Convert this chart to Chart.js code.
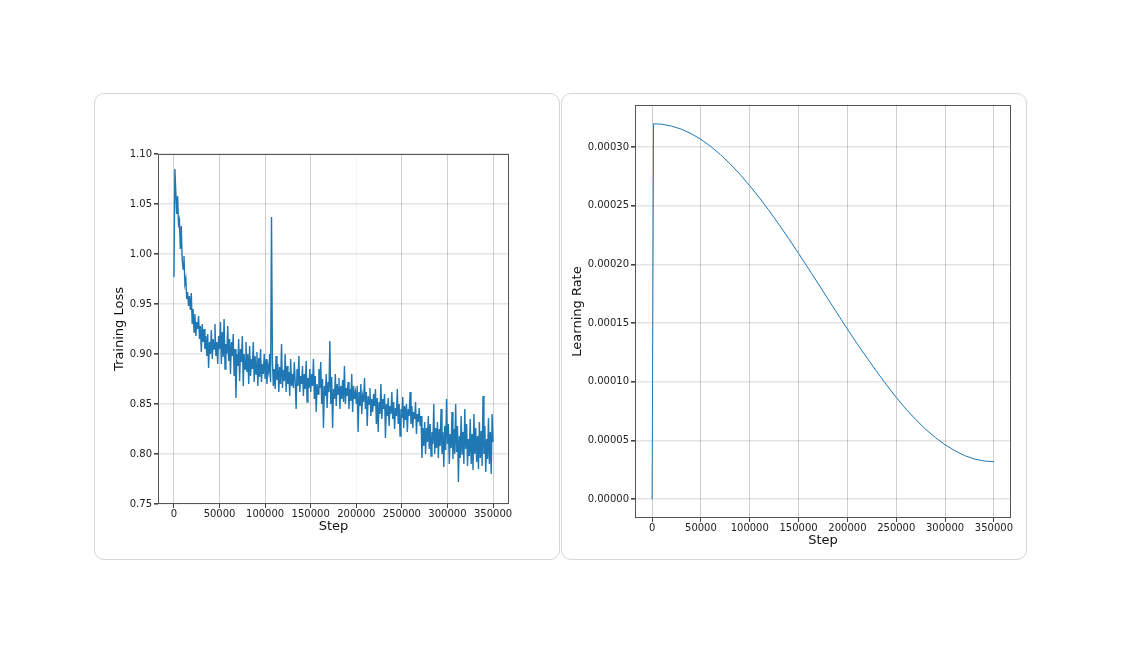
<!DOCTYPE html>
<html>
<head>
<meta charset="utf-8">
<script src="https://cdn.jsdelivr.net/npm/chart.js@4.4.1/dist/chart.umd.min.js"></script>
<style>
  body { margin: 0; background: #fff; width: 1121px; height: 656px; overflow: hidden; }
  .panel {
    position: absolute; box-sizing: border-box;
    border: 1px solid #d6d6d6; border-radius: 10px; background: #fff;
  }
  .panel .wrap { position: absolute; left: -1px; top: -1px; }
</style>
</head>
<body>
<div class="panel" style="left:94px; top:93px; width:466px; height:467px;">
  <div class="wrap" style="width:466px; height:467px;"><canvas id="lossChart"></canvas></div>
</div>
<div class="panel" style="left:561px; top:93px; width:466px; height:467px;">
  <div class="wrap" style="width:466px; height:467px;"><canvas id="lrChart"></canvas></div>
</div>
<script>
// training loss, one value every 1000 steps (0 .. 350000)
const lossStepEvery = 1000;
const lossValues = [
  0.977, 1.085, 1.063, 1.040, 1.058, 1.030, 1.034, 1.005, 1.028, 0.995,
  0.985, 0.998, 0.970, 0.975, 0.955, 0.962, 0.948, 0.958, 0.944, 0.961,
  0.930, 0.945, 0.922, 0.940, 0.918, 0.932, 0.925, 0.938, 0.915, 0.928,
  0.902, 0.930, 0.912, 0.925, 0.905, 0.918, 0.898, 0.920, 0.886, 0.912,
  0.900, 0.924, 0.895, 0.915, 0.905, 0.930, 0.898, 0.912, 0.890, 0.918,
  0.905, 0.932, 0.890, 0.922, 0.897, 0.935, 0.885, 0.910, 0.900, 0.928,
  0.893, 0.915, 0.880, 0.912, 0.898, 0.920, 0.878, 0.905, 0.856, 0.900,
  0.888, 0.915, 0.873, 0.905, 0.892, 0.918, 0.868, 0.900, 0.885, 0.912,
  0.882, 0.900, 0.870, 0.908, 0.878, 0.895, 0.885, 0.912, 0.872, 0.898,
  0.880, 0.902, 0.868, 0.896, 0.877, 0.905, 0.872, 0.890, 0.880, 0.900,
  0.875, 0.895, 0.870, 0.888, 0.882, 0.900, 0.872, 1.037, 0.893, 0.868,
  0.885, 0.865, 0.898, 0.874, 0.890, 0.862, 0.887, 0.870, 0.910, 0.866,
  0.884, 0.873, 0.900, 0.862, 0.888, 0.870, 0.882, 0.858, 0.895, 0.868,
  0.880, 0.866, 0.892, 0.872, 0.845, 0.885, 0.868, 0.898, 0.862, 0.878,
  0.870, 0.888, 0.858, 0.880, 0.865, 0.893, 0.852, 0.876, 0.866, 0.885,
  0.862, 0.880, 0.868, 0.895, 0.855, 0.878, 0.842, 0.870, 0.860, 0.885,
  0.866, 0.892, 0.850, 0.875, 0.826, 0.868, 0.858, 0.880, 0.846, 0.872,
  0.862, 0.913, 0.850, 0.877, 0.826, 0.865, 0.855, 0.880, 0.848, 0.870,
  0.860, 0.876, 0.845, 0.868, 0.855, 0.874, 0.852, 0.888, 0.850, 0.866,
  0.858, 0.872, 0.845, 0.865, 0.853, 0.880, 0.842, 0.868, 0.855, 0.862,
  0.850, 0.868, 0.822, 0.862, 0.848, 0.870, 0.840, 0.858, 0.852, 0.876,
  0.845, 0.862, 0.828, 0.858, 0.850, 0.866, 0.838, 0.855, 0.842, 0.860,
  0.848, 0.865, 0.830, 0.856, 0.822, 0.852, 0.840, 0.870, 0.835, 0.855,
  0.845, 0.860, 0.816, 0.850, 0.838, 0.856, 0.828, 0.848, 0.840, 0.862,
  0.835, 0.852, 0.825, 0.846, 0.838, 0.865, 0.830, 0.850, 0.818, 0.845,
  0.836, 0.857, 0.826, 0.848, 0.834, 0.850, 0.822, 0.845, 0.838, 0.862,
  0.830, 0.848, 0.826, 0.842, 0.835, 0.852, 0.820, 0.840, 0.832, 0.846,
  0.828, 0.838, 0.796, 0.826, 0.808, 0.832, 0.800, 0.826, 0.812, 0.838,
  0.805, 0.830, 0.798, 0.822, 0.810, 0.850, 0.800, 0.826, 0.806, 0.832,
  0.796, 0.825, 0.808, 0.845, 0.800, 0.822, 0.787, 0.828, 0.804, 0.855,
  0.810, 0.830, 0.790, 0.820, 0.806, 0.842, 0.795, 0.825, 0.800, 0.850,
  0.802, 0.828, 0.772, 0.818, 0.796, 0.838, 0.800, 0.822, 0.790, 0.845,
  0.805, 0.830, 0.788, 0.815, 0.798, 0.835, 0.790, 0.820, 0.784, 0.840,
  0.800, 0.826, 0.792, 0.818, 0.785, 0.832, 0.796, 0.823, 0.788, 0.858,
  0.800, 0.828, 0.782, 0.815, 0.795, 0.836, 0.790, 0.822, 0.780, 0.840,
  0.812
];

// learning rate: warmup then cosine decay
const lrSteps = [
  0, 1500, 10000, 20000, 30000, 40000, 50000, 60000, 70000, 80000, 90000,
  100000, 110000, 120000, 130000, 140000, 150000, 160000, 170000, 180000, 190000,
  200000, 210000, 220000, 230000, 240000, 250000, 260000, 270000, 280000, 290000,
  300000, 310000, 320000, 330000, 340000, 350000
];
const lrValues = [
  0, 0.000320, 0.0003196, 0.000318, 0.0003154, 0.0003116, 0.0003067, 0.0003007, 0.0002937, 0.0002857, 0.0002769,
  0.0002672, 0.0002568, 0.0002458, 0.0002341, 0.000222, 0.0002095, 0.0001967, 0.0001838, 0.0001708, 0.0001579,
  0.000145, 0.0001325, 0.0001206, 0.0001088, 0.0000975, 0.0000868, 0.0000768, 0.0000679, 0.0000597, 0.0000526,
  0.0000464, 0.0000413, 0.0000372, 0.0000343, 0.0000326, 0.000032
];

const stepTicks = [0, 50000, 100000, 150000, 200000, 250000, 300000, 350000];
const lossTicks = [0.75, 0.80, 0.85, 0.90, 0.95, 1.00, 1.05, 1.10];
const lrTicks = [0, 0.00005, 0.0001, 0.00015, 0.0002, 0.00025, 0.0003];

const FONT = "'DejaVu Sans', sans-serif";
const LINE = "#1f77b4";

// full box around plot area like matplotlib spines
const frame = {
  id: "frame",
  afterDatasetsDraw(chart) {
    const { ctx, chartArea: a } = chart;
    ctx.save();
    ctx.strokeStyle = "#555";
    ctx.lineWidth = 1;
    ctx.strokeRect(Math.round(a.left) + 0.5, Math.round(a.top) + 0.5,
      Math.round(a.right - a.left) - 1, Math.round(a.bottom - a.top) - 1);
    ctx.restore();
  }
};

function fixedTicks(list) {
  return (s) => { s.ticks = list.map(v => ({ value: v })); };
}

function makeChart(id, points, opt) {
  return new Chart(document.getElementById(id), {
    type: "line",
    data: {
      datasets: [{
        data: points,
        borderColor: LINE,
        borderWidth: opt.lineWidth,
        pointRadius: 0,
        tension: 0,
        fill: false
      }]
    },
    options: {
      animation: false,
      responsive: true,
      maintainAspectRatio: false,
      layout: { padding: opt.padding },
      plugins: { legend: { display: false }, tooltip: { enabled: false } },
      scales: {
        x: {
          type: "linear",
          min: -17500,
          max: 367500,
          afterBuildTicks: fixedTicks(stepTicks),
          afterFit: (s) => { s.height = opt.xHeight; },
          border: { display: false },
          grid: {
            color: opt.xGridColor || "#cfcfcf",
            lineWidth: 1,
            tickLength: 4,
            tickColor: "#444"
          },
          ticks: {
            color: "#222",
            font: { family: FONT, size: 10 },
            padding: 0,
            maxRotation: 0,
            autoSkip: false,
            callback: (v) => String(v)
          },
          title: {
            display: true,
            text: "Step",
            color: "#111",
            font: { family: FONT, size: 13 },
            padding: { top: 0, bottom: opt.xTitlePad }
          }
        },
        y: {
          type: "linear",
          min: opt.yMin,
          max: opt.yMax,
          afterBuildTicks: fixedTicks(opt.yTicks),
          afterFit: (s) => { s.width = opt.yWidth; },
          border: { display: false },
          grid: {
            color: "rgba(0,0,0,0.1)",
            lineWidth: 1.6,
            tickLength: 4,
            tickColor: "#444"
          },
          ticks: {
            color: "#222",
            font: { family: FONT, size: 10 },
            padding: 2,
            autoSkip: false,
            callback: opt.yFmt
          },
          title: {
            display: true,
            text: opt.yTitle,
            color: "#111",
            font: { family: FONT, size: 13 },
            padding: { top: opt.yTitlePad, bottom: 0 }
          }
        }
      }
    },
    plugins: [frame]
  });
}

makeChart("lossChart", lossValues.map((v, i) => ({ x: i * lossStepEvery, y: v })), {
  padding: { left: 0, top: 61, right: 51, bottom: 0 },
  lineWidth: 1.4,
  xHeight: 56,
  yWidth: 64,
  yMin: 0.75,
  yMax: 1.10,
  yTicks: lossTicks,
  yFmt: (v) => v.toFixed(2),
  yTitle: "Training Loss",
  yTitlePad: 17.5,
  xTitlePad: 26,
  xGridColor: (c) => (c.tick && c.tick.value === 200000 ? "#f3f3f3" : "#cfcfcf")
});

makeChart("lrChart", lrSteps.map((s, i) => ({ x: s, y: lrValues[i] })), {
  padding: { left: 0, top: 12, right: 16, bottom: 0 },
  lineWidth: 1,
  xHeight: 42,
  yWidth: 74,
  yMin: -0.000016,
  yMax: 0.000336,
  yTicks: lrTicks,
  yFmt: (v) => v.toFixed(5),
  yTitle: "Learning Rate",
  yTitlePad: 9,
  xTitlePad: 12
});
</script>
</body>
</html>
